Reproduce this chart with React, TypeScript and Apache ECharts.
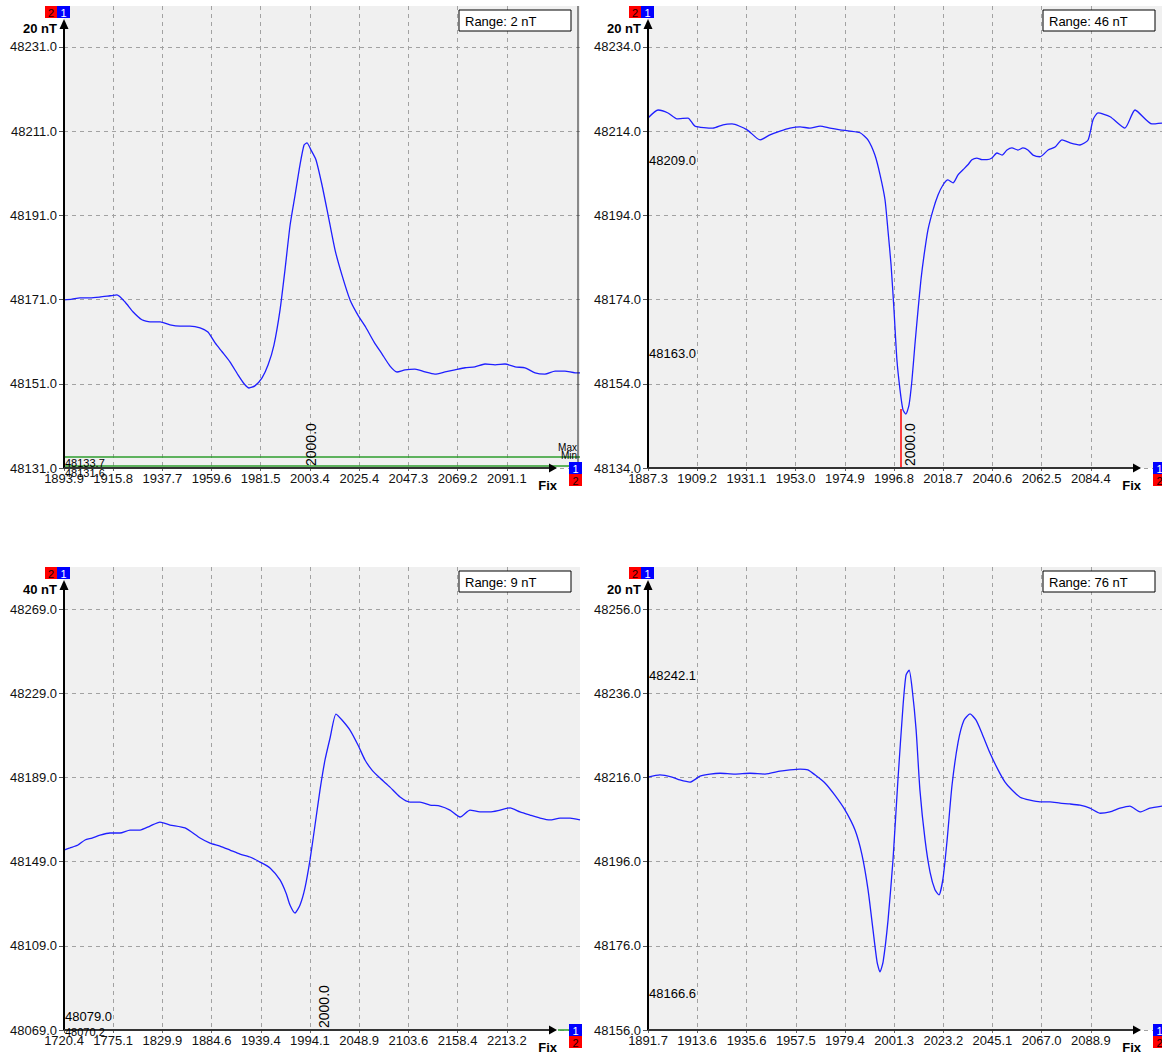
import React, { useEffect, useRef } from 'react';
import * as echarts from 'echarts';

// ---------- Panel 1 (top-left) ----------
const p1Fix = [1893.9,1897.5,1901.0,1905.5,1909.9,1914.4,1917.5,1921.1,1924.6,1928.6,1932.2,1936.7,1941.1,1945.6,1950.0,1954.5,1958.0,1961.2,1964.3,1967.8,1971.4,1974.1,1976.3,1978.9,1982.1,1984.8,1987.4,1990.1,1992.3,1994.6,1996.8,1999.0,2000.8,2002.1,2003.9,2006.1,2008.8,2011.5,2014.6,2017.7,2021.3,2024.8,2028.4,2032.0,2035.5,2039.1,2042.2,2045.8,2050.2,2054.7,2059.1,2063.6,2068.0,2072.5,2076.9,2081.4,2085.9,2090.3,2094.8,2099.2,2103.7,2108.1,2112.6,2117.0,2121.5,2123.7];
const p1Field = [48170.9,48171.1,48171.4,48171.4,48171.6,48171.9,48172.1,48170.4,48168.1,48166.2,48165.7,48165.7,48165.0,48164.7,48164.7,48164.3,48163.3,48160.7,48158.6,48156.2,48153.1,48151.0,48150.0,48150.5,48152.4,48155.5,48160.2,48168.5,48178.0,48188.7,48195.8,48203.0,48207.7,48208.2,48206.5,48204.2,48198.2,48191.1,48182.8,48176.8,48170.9,48167.3,48164.3,48160.9,48158.1,48155.2,48153.8,48154.3,48154.5,48153.8,48153.3,48153.8,48154.3,48154.8,48155.0,48155.7,48155.5,48155.7,48155.0,48154.8,48153.6,48153.3,48154.0,48154.0,48153.6,48153.6];
const p1XTicks = ['1893.9','1915.8','1937.7','1959.6','1981.5','2003.4','2025.4','2047.3','2069.2','2091.1'];
const p1YTicks = ['48131.0','48151.0','48171.0','48191.0','48211.0','48231.0'];
const p1XRange = [1893.9, 2123.7];
const p1YRange = [48131, 48240.7];

// ---------- Panel 2 (top-right) ----------
const p2Fix = [1887.3,1891.8,1896.2,1900.2,1905.1,1908.2,1916.2,1920.7,1924.7,1931.4,1937.2,1941.6,1946.1,1950.5,1955.0,1959.4,1963.9,1968.3,1972.8,1977.2,1981.7,1985.2,1988.3,1990.6,1992.8,1994.1,1995.5,1996.8,1998.1,1999.5,2000.8,2002.1,2003.5,2004.8,2006.1,2007.5,2008.8,2010.2,2011.9,2014.2,2016.4,2018.6,2020.8,2023.1,2025.3,2027.5,2029.7,2031.5,2033.7,2036.0,2038.2,2040.4,2042.6,2044.9,2047.1,2049.3,2052.0,2054.2,2056.4,2058.7,2061.8,2065.4,2068.5,2071.6,2075.2,2079.6,2083.2,2085.4,2087.6,2093.0,2099.6,2104.1,2111.6,2116.1];
const p2Field = [48217.1,48219.0,48218.3,48216.9,48217.1,48215.2,48214.7,48215.5,48215.7,48214.3,48211.9,48213.1,48214.0,48214.7,48215.0,48214.7,48215.2,48214.7,48214.3,48214.0,48213.6,48211.9,48208.3,48203.6,48197.7,48190.5,48182.2,48171.5,48159.7,48152.5,48147.8,48146.8,48149.0,48154.9,48163.2,48171.5,48178.7,48184.6,48190.5,48195.3,48198.8,48201.2,48202.4,48201.7,48203.6,48204.8,48206.0,48207.2,48207.6,48207.2,48207.2,48207.6,48208.8,48208.3,48209.5,48210.0,48209.5,48210.0,48209.5,48208.3,48207.9,48209.5,48210.2,48211.9,48211.2,48210.7,48211.9,48216.7,48218.3,48217.4,48214.7,48219.0,48215.7,48215.9];
const p2XTicks = ['1887.3','1909.2','1931.1','1953.0','1974.9','1996.8','2018.7','2040.6','2062.5','2084.4'];
const p2YTicks = ['48134.0','48154.0','48174.0','48194.0','48214.0','48234.0'];
const p2XRange = [1887.3, 2116.1];
const p2YRange = [48134, 48243.7];

// ---------- Panel 3 (bottom-left) ----------
const p3Fix = [1720.4,1727.1,1736.0,1743.8,1751.6,1760.5,1771.6,1782.7,1793.9,1805.0,1816.1,1827.2,1838.4,1855.1,1871.8,1882.9,1894.0,1905.2,1916.3,1927.4,1938.6,1949.7,1960.8,1967.5,1971.9,1977.5,1983.1,1988.6,1994.2,1999.8,2005.3,2010.9,2016.5,2023.1,2029.8,2038.7,2047.6,2055.4,2063.2,2072.1,2083.2,2094.4,2105.5,2116.6,2127.8,2138.9,2150.0,2161.2,2172.3,2183.4,2194.5,2205.7,2216.8,2227.9,2239.1,2250.2,2261.3,2272.5,2283.6,2294.7];
const p3Field = [48154.5,48155.5,48156.9,48159.3,48160.2,48161.6,48162.6,48162.6,48164.0,48164.0,48165.9,48167.8,48166.4,48165.0,48160.2,48157.8,48156.4,48154.5,48152.6,48151.2,48148.8,48146.0,48140.3,48134.1,48128.4,48124.6,48128.4,48136.5,48149.8,48166.4,48183.0,48197.3,48207.7,48219.1,48216.3,48211.5,48204.4,48197.3,48192.5,48188.7,48184.4,48179.7,48177.3,48177.3,48175.9,48175.4,48173.5,48170.2,48173.5,48172.6,48172.6,48173.5,48174.5,48172.6,48171.1,48169.7,48168.8,48169.7,48169.7,48168.8];
const p3XTicks = ['1720.4','1775.1','1829.9','1884.6','1939.4','1994.1','2048.9','2103.6','2158.4','2213.2'];
const p3YTicks = ['48069.0','48109.0','48149.0','48189.0','48229.0','48269.0'];
const p3XRange = [1720.4, 2294.7];
const p3YRange = [48069, 48289];

// ---------- Panel 4 (bottom-right) ----------
const p4Fix = [1891.7,1897.0,1902.4,1905.9,1910.4,1914.9,1919.3,1923.8,1930.4,1937.1,1943.8,1950.5,1954.9,1959.4,1962.9,1966.1,1970.5,1974.9,1979.4,1983.9,1987.0,1989.7,1991.9,1993.7,1995.0,1996.4,1998.6,2000.8,2003.0,2005.3,2006.6,2008.0,2009.3,2011.1,2012.8,2015.1,2017.3,2019.5,2021.3,2023.1,2024.9,2027.1,2029.8,2032.4,2035.1,2037.8,2040.4,2044.0,2047.6,2050.7,2053.8,2057.4,2061.8,2066.3,2070.7,2075.2,2079.6,2084.1,2088.5,2093.0,2097.4,2101.9,2106.3,2110.8,2115.2,2120.6];
const p4Field = [48216.1,48216.6,48216.1,48215.4,48214.9,48216.3,48216.8,48217.0,48216.8,48217.0,48216.8,48217.5,48217.8,48218.0,48217.8,48216.6,48214.7,48211.8,48208.3,48203.5,48197.6,48189.3,48179.8,48172.2,48169.8,48172.2,48182.1,48196.4,48215.4,48233.2,48240.3,48241.5,48237.2,48227.3,48213.0,48201.1,48193.5,48189.3,48188.1,48192.1,48201.1,48214.2,48224.4,48229.6,48231.1,48229.6,48226.5,48221.8,48217.8,48214.9,48213.0,48211.3,48210.6,48210.2,48210.2,48209.9,48209.7,48209.4,48208.7,48207.5,48207.8,48208.7,48209.2,48207.8,48208.7,48209.2];
const p4XTicks = ['1891.7','1913.6','1935.6','1957.5','1979.4','2001.3','2023.2','2045.1','2067.0','2088.9'];
const p4YTicks = ['48156.0','48176.0','48196.0','48216.0','48236.0','48256.0'];
const p4XRange = [1891.7, 2120.6];
const p4YRange = [48156, 48266];

// ---------- texts ----------
const scaleLabels = ['20 nT', '20 nT', '40 nT', '20 nT'];
const rangeLabels = ['Range: 2 nT', 'Range: 46 nT', 'Range: 9 nT', 'Range: 76 nT'];
const markerFix = 2000.0;
const markerPanels = [0, 1, 2];
const extremeLabels = [
  { panel: 0, value: 48133.7, dy: 6 }, { panel: 0, value: 48131.6, dy: 8 },
  { panel: 1, value: 48209.0, dy: 8 }, { panel: 1, value: 48163.0, dy: 8 },
  { panel: 2, value: 48079.0, dy: 8 }, { panel: 2, value: 48070.2, dy: 5 },
  { panel: 3, value: 48242.1, dy: 8 }, { panel: 3, value: 48166.6, dy: 8 },
];
const p1LimitLines = [48133.7, 48131.6];
const p2MarkerBottom = 48148.0;

const FONT = '"Liberation Sans", Arial, sans-serif';

const layout = [
  { left: 64, top: 6, width: 516, height: 462 },
  { left: 648, top: 6, width: 514, height: 462 },
  { left: 64, top: 567, width: 516, height: 463 },
  { left: 648, top: 567, width: 514, height: 463 },
];

const panels = [
  { fix: p1Fix, field: p1Field, xt: p1XTicks, yt: p1YTicks, xr: p1XRange, yr: p1YRange },
  { fix: p2Fix, field: p2Field, xt: p2XTicks, yt: p2YTicks, xr: p2XRange, yr: p2YRange },
  { fix: p3Fix, field: p3Field, xt: p3XTicks, yt: p3YTicks, xr: p3XRange, yr: p3YRange },
  { fix: p4Fix, field: p4Field, xt: p4XTicks, yt: p4YTicks, xr: p4XRange, yr: p4YRange },
];

function buildOption(): any {
  const gridLine = { show: true, lineStyle: { color: '#a2a2a2', type: [4, 4], width: 1 } };
  return {
    animation: false,
    backgroundColor: '#ffffff',
    grid: layout.map((g) => ({ ...g, show: true, backgroundColor: '#f0f0f0', borderWidth: 0 })),
    xAxis: panels.map((p, i) => {
      const vals = p.xt.map(Number);
      return {
        type: 'value', gridIndex: i, min: p.xr[0], max: p.xr[1],
        axisLine: { show: false },
        axisTick: { show: true, length: 3, customValues: vals, lineStyle: { color: '#666' } },
        axisLabel: {
          show: true, customValues: vals, margin: 4, fontSize: 13, fontFamily: FONT, color: '#111',
          hideOverlap: false, formatter: (v: number) => v.toFixed(1),
        },
        splitLine: gridLine,
      };
    }),
    yAxis: panels.map((p, i) => {
      const vals = p.yt.map(Number);
      return {
        type: 'value', gridIndex: i, min: p.yr[0], max: p.yr[1],
        axisLine: { show: false },
        axisTick: { show: true, length: 5, customValues: vals, lineStyle: { color: '#555' } },
        axisLabel: {
          show: true, customValues: vals, margin: 7, fontSize: 13, fontFamily: FONT, color: '#111',
          hideOverlap: false, formatter: (v: number) => v.toFixed(1),
        },
        splitLine: gridLine,
      };
    }),
    series: panels.map((p, i) => {
      const s: any = {
        type: 'line', xAxisIndex: i, yAxisIndex: i,
        data: p.fix.map((x, k) => [x, p.field[k]]),
        showSymbol: false, symbol: 'none', smooth: 0.2,
        lineStyle: { color: '#1f1fff', width: 1.3 }, z: 3,
      };
      if (i === 0) {
        s.markLine = {
          silent: true, symbol: ['none', 'none'], label: { show: false },
          lineStyle: { color: '#2e9e2e', width: 1.5, type: 'solid' },
          data: p1LimitLines.map((v) => ({ yAxis: v })),
        };
      }
      if (i === 1) {
        s.markLine = {
          silent: true, symbol: ['none', 'none'], label: { show: false },
          lineStyle: { color: '#ff0000', width: 1.5, type: 'solid' },
          data: [[{ coord: [markerFix, p2MarkerBottom] }, { coord: [markerFix, p.yr[0]] }]],
        };
      }
      return s;
    }),
  };
}

function txt(x: number, y: number, text: string, opts: any = {}): any {
  return {
    type: 'text', x, y, z: 20, rotation: opts.rotation || 0,
    style: {
      text, fill: opts.fill || '#000', fontSize: opts.size || 13, fontFamily: FONT,
      fontWeight: opts.weight || 'normal', align: opts.align || 'left', verticalAlign: opts.va || 'middle',
    },
  };
}

function buildGraphics(chart: any): any[] {
  const els: any[] = [];
  layout.forEach((g, i) => {
    const axisY = g.top + g.height;
    const tip = g.left + 493;
    // y axis with arrow
    els.push({ type: 'line', z: 15, shape: { x1: g.left, y1: axisY, x2: g.left, y2: g.top + 20 }, style: { stroke: '#000', lineWidth: 2 } });
    els.push({ type: 'polygon', z: 15, shape: { points: [[g.left, g.top + 13], [g.left - 4.5, g.top + 23], [g.left + 4.5, g.top + 23]] }, style: { fill: '#000' } });
    // x axis with arrow
    els.push({ type: 'line', z: 15, shape: { x1: g.left, y1: axisY, x2: tip - 6, y2: axisY }, style: { stroke: '#333', lineWidth: 2 } });
    els.push({ type: 'polygon', z: 15, shape: { points: [[tip, axisY], [tip - 8, axisY - 4.5], [tip - 8, axisY + 4.5]] }, style: { fill: '#000' } });
    // top-left channel squares
    els.push({ type: 'rect', z: 16, shape: { x: g.left - 19, y: g.top, width: 12, height: 12 }, style: { fill: '#ff0000' } });
    els.push({ type: 'rect', z: 16, shape: { x: g.left - 7, y: g.top, width: 13, height: 12 }, style: { fill: '#0000ff' } });
    els.push(txt(g.left - 13, g.top + 6.5, '2', { size: 11, align: 'center', fill: '#200' }));
    els.push(txt(g.left - 0.5, g.top + 6.5, '1', { size: 11, align: 'center', fill: '#fff' }));
    // bottom-right channel squares
    els.push({ type: 'rect', z: 16, shape: { x: tip + 12, y: axisY - 6, width: 13, height: 12 }, style: { fill: '#0000ff' } });
    els.push({ type: 'rect', z: 16, shape: { x: tip + 12, y: axisY + 6, width: 13, height: 12 }, style: { fill: '#ff0000' } });
    els.push(txt(tip + 18.5, axisY + 0.5, '1', { size: 11, align: 'center', fill: '#fff' }));
    els.push(txt(tip + 18.5, axisY + 12.5, '2', { size: 11, align: 'center', fill: '#200' }));
    // scale label
    els.push(txt(g.left - 7, g.top + 22, scaleLabels[i], { weight: 'bold', align: 'right' }));
    // Fix label
    els.push(txt(tip, axisY + 17, 'Fix', { weight: 'bold', align: 'right' }));
    // range box
    els.push({ type: 'rect', z: 16, shape: { x: g.left + 395, y: g.top + 4, width: 112, height: 21 }, style: { fill: '#fff', stroke: '#000', lineWidth: 1 } });
    els.push(txt(g.left + 401, g.top + 15, rangeLabels[i]));
  });

  // panel 1 right-hand limit axis
  const g0 = layout[0];
  els.push({ type: 'line', z: 15, shape: { x1: g0.left + g0.width - 2, y1: g0.top, x2: g0.left + g0.width - 2, y2: g0.top + g0.height - 6 }, style: { stroke: '#222', lineWidth: 1 } });
  const maxPx = chart.convertToPixel({ gridIndex: 0 }, [p1XRange[0], p1LimitLines[0]]);
  els.push(txt(g0.left + g0.width - 3, maxPx[1] - 9, 'Max', { size: 10, align: 'right' }));
  els.push(txt(g0.left + g0.width - 3, maxPx[1] - 1, 'Min', { size: 10, align: 'right' }));
  // panel 3 green stub
  const g2 = layout[2];
  els.push({ type: 'line', z: 15, shape: { x1: g2.left + 494, y1: g2.top + g2.height, x2: g2.left + 505, y2: g2.top + g2.height }, style: { stroke: '#2e9e2e', lineWidth: 1.5 } });

  // extreme labels
  extremeLabels.forEach((e) => {
    const pt = chart.convertToPixel({ gridIndex: e.panel }, [panels[e.panel].xr[0], e.value]);
    const small = e.panel === 0 || e.value === 48070.2;
    els.push(txt(layout[e.panel].left + 1, pt[1] + e.dy, e.value.toFixed(1), { size: small ? 11 : 13 }));
  });
  // fix marker labels
  markerPanels.forEach((i) => {
    const g = layout[i];
    const pt = chart.convertToPixel({ gridIndex: i }, [markerFix, panels[i].yr[0]]);
    els.push(txt(pt[0] + 2, g.top + g.height - 2, markerFix.toFixed(1), { rotation: Math.PI / 2, va: 'top', size: 14 }));
  });
  return els;
}

export default function App() {
  const ref = useRef<HTMLDivElement>(null);
  useEffect(() => {
    const el = ref.current;
    if (!el) return;
    const chart = echarts.init(el, undefined, { renderer: 'svg' });
    chart.setOption(buildOption());
    chart.setOption({ graphic: { elements: buildGraphics(chart) } });
    return () => chart.dispose();
  }, []);
  return (
    <div
      ref={ref}
      style={{ position: 'absolute', left: 0, top: 0, width: 1162, height: 1054, background: '#fff' }}
    />
  );
}
